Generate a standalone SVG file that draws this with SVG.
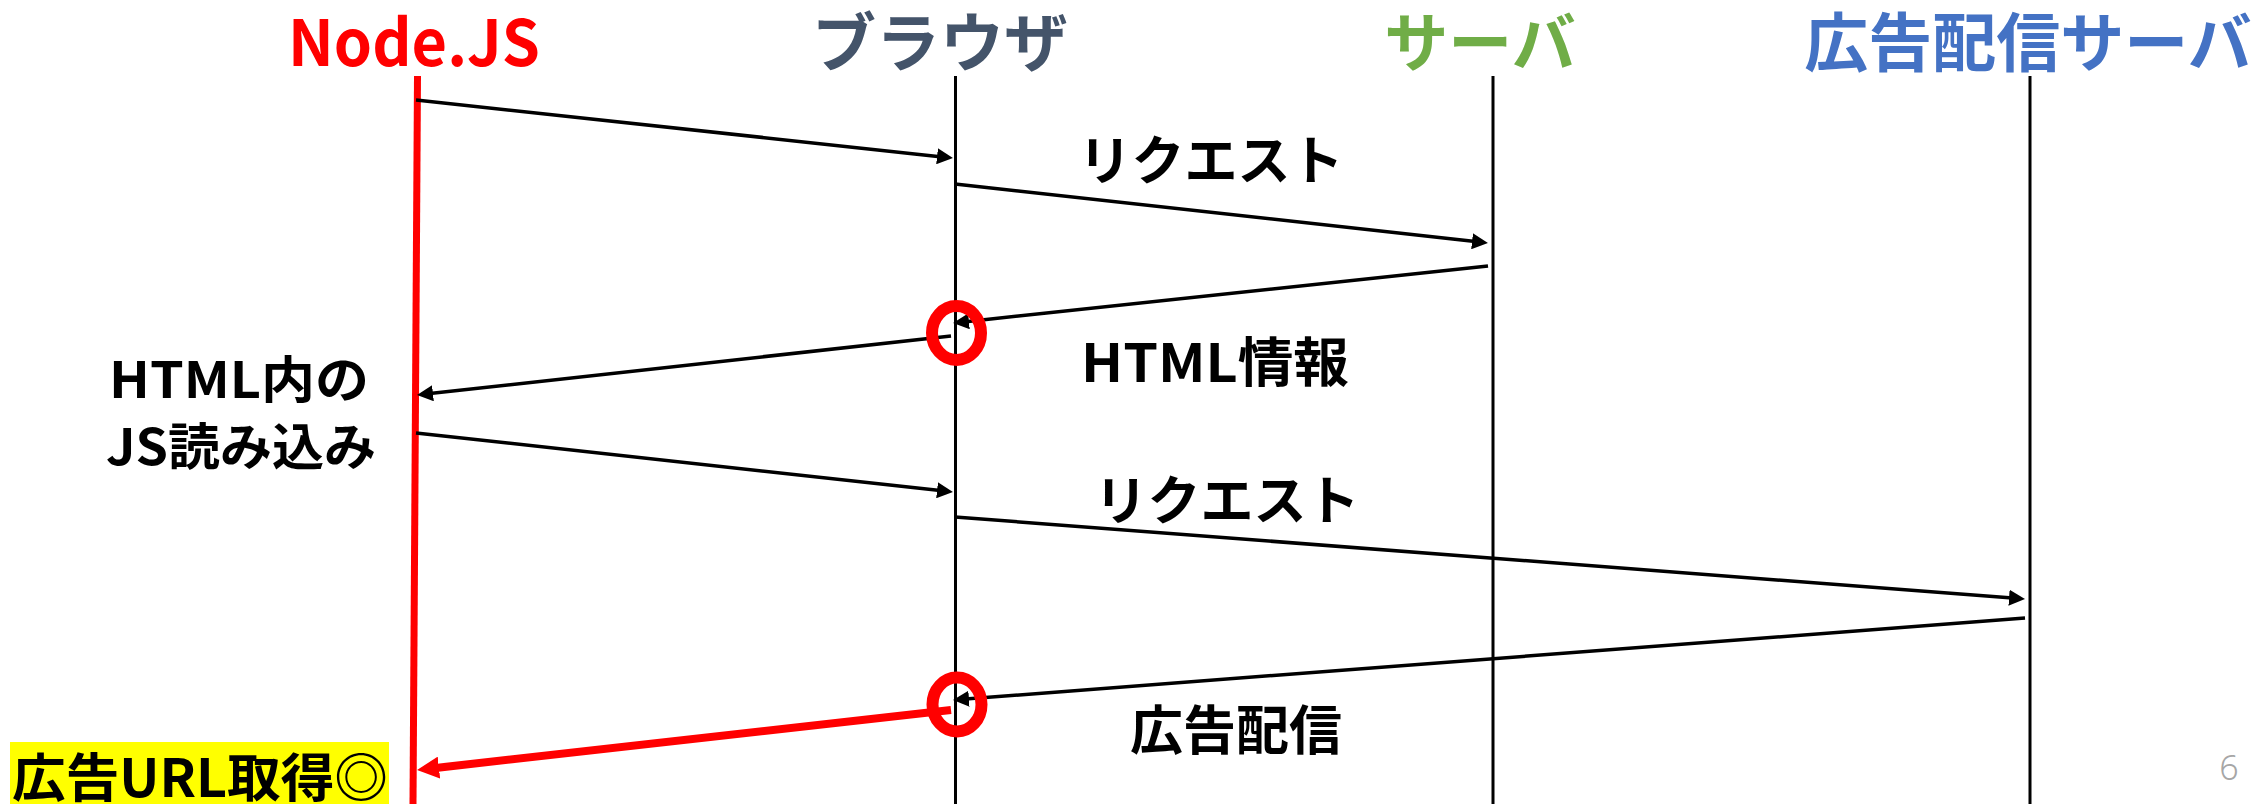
<svg xmlns="http://www.w3.org/2000/svg" width="2257" height="804" viewBox="0 0 2257 804">
  <style>
    .t { font-family: "Noto Sans CJK JP", "Noto Sans", sans-serif; font-weight: bold; text-anchor: middle; }
    .head { font-size: 64px; }
    .lbl { font-size: 53px; fill: #000000; }
    .life { stroke: #000000; stroke-width: 3; fill: none; }
    .msg { stroke: #000000; stroke-width: 3.5; fill: none; marker-end: url(#ah); }
    .mark { fill: none; stroke: #FF0000; stroke-width: 12; }
  </style>
  <defs>
    <marker id="ah" markerUnits="userSpaceOnUse" markerWidth="16" markerHeight="16" refX="10" refY="8" orient="auto">
      <path d="M0,0 L16,8 L0,16 z" fill="#000000"/>
    </marker>
    <marker id="ahr" markerUnits="userSpaceOnUse" markerWidth="22" markerHeight="22" refX="12" refY="11" orient="auto">
      <path d="M0,0 L22,11 L0,22 z" fill="#FF0000"/>
    </marker>
  </defs>
  <rect width="2257" height="804" fill="#FFFFFF"/>

  <g id="node-nodejs">
    <text class="t head" x="414" y="66" fill="#FF0000" textLength="252" lengthAdjust="spacingAndGlyphs">Node.JS</text>
    <line x1="417.5" y1="76" x2="413" y2="804" stroke="#FF0000" stroke-width="7"/>
  </g>
  <g id="node-browser">
    <text class="t head" x="940" y="66" fill="#44546A">ブラウザ</text>
    <line class="life" x1="955.5" y1="76" x2="955.5" y2="804"/>
  </g>
  <g id="node-server">
    <text class="t head" x="1480" y="66" fill="#70AD47">サーバ</text>
    <line class="life" x1="1493" y1="76" x2="1493" y2="804"/>
  </g>
  <g id="node-adserver">
    <text class="t head" x="2028" y="66" fill="#4472C4">広告配信サーバ</text>
    <line class="life" x1="2030" y1="76" x2="2030" y2="804"/>
  </g>

  <g id="connectors">
    <line class="msg" x1="416" y1="100" x2="947" y2="157.4"/>
    <line class="msg" x1="955" y1="184" x2="1482" y2="242.3"/>
    <line class="msg" x1="1488" y1="266" x2="959" y2="322.4"/>
    <line class="msg" x1="951" y1="336" x2="423" y2="394.3"/>
    <line class="msg" x1="416" y1="433" x2="947" y2="491.3"/>
    <line class="msg" x1="955" y1="517" x2="2019" y2="598.5"/>
    <line class="msg" x1="2025" y1="618" x2="959" y2="699.5"/>
    <line x1="951" y1="710" x2="427" y2="768.9" stroke="#FF0000" stroke-width="8" marker-end="url(#ahr)"/>
  </g>

  <g id="labels">
    <text class="t lbl" x="1211" y="180">リクエスト</text>
    <text class="t lbl" x="1215" y="382" textLength="268" lengthAdjust="spacingAndGlyphs">HTML情報</text>
    <text class="t lbl" x="1227" y="520">リクエスト</text>
    <text class="t lbl" x="1236" y="750">広告配信</text>
    <text class="t lbl" x="239" y="398" style="font-size:50px" textLength="260" lengthAdjust="spacingAndGlyphs">HTML内の</text>
    <text class="t lbl" x="241" y="465" style="font-size:50px" textLength="270" lengthAdjust="spacingAndGlyphs">JS読み込み</text>
  </g>

  <g id="result">
    <rect x="10" y="742" width="379" height="62" fill="#FFFF00"/>
    <text class="t lbl" x="200" y="797" style="font-size:52px" textLength="376" lengthAdjust="spacingAndGlyphs">広告URL取得◎</text>
  </g>

  <g id="highlights">
    <ellipse class="mark" cx="956.5" cy="333" rx="24.5" ry="27"/>
    <ellipse class="mark" cx="957" cy="704.5" rx="24.5" ry="27"/>
  </g>

  <text x="2229" y="780" font-family="'Noto Sans', sans-serif" font-size="34" font-weight="300" fill="#A6A6A6" text-anchor="middle">6</text>
</svg>
